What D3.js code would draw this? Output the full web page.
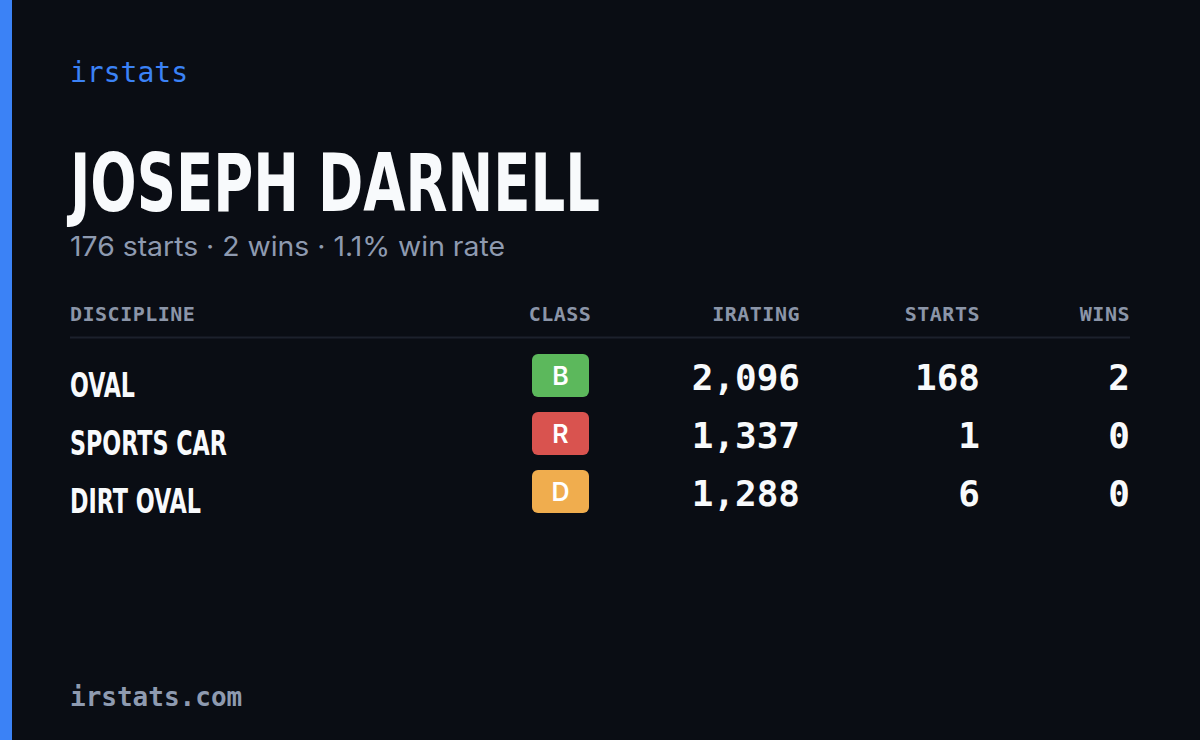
<!DOCTYPE html>
<html><head><meta charset="utf-8">
<script src="https://cdn.jsdelivr.net/npm/d3@7"></script>
<style>body{margin:0;background:#0a0d14}</style>
</head><body>
<svg id="card" width="1200" height="740"></svg>
<script>
// data
var driver = "JOSEPH DARNELL";
var summary = "176 starts \u00b7 2 wins \u00b7 1.1% win rate";
var disciplines = ["OVAL", "SPORTS CAR", "DIRT OVAL"];
var labelWidths = [65, 157, 131];
var classes = ["B", "R", "D"];
var iratings = [2096, 1337, 1288];
var starts = [168, 1, 6];
var wins = [2, 0, 0];
var headers = ["DISCIPLINE", "CLASS", "IRATING", "STARTS", "WINS"];
var classColors = {B: "#5cb85c", R: "#d9534f", D: "#f0ad4e"};

var svg = d3.select("#card");
var mono = "'DejaVu Sans Mono', 'Liberation Mono', monospace";
var narrow = "'Liberation Sans Narrow', 'DejaVu Sans Condensed', sans-serif";

svg.append("rect").attr("width", 1200).attr("height", 740).attr("fill", "#0a0d14");
svg.append("rect").attr("width", 12).attr("height", 740).attr("fill", "#3b82f6");

svg.append("text").attr("x", 70).attr("y", 82).text("irstats")
    .attr("font-family", mono).attr("font-size", 28).attr("fill", "#3b82f6");

svg.append("text").attr("x", 70).attr("y", 211).text(driver)
    .attr("font-family", narrow).attr("font-weight", 700).attr("font-size", 80)
    .attr("textLength", 530).attr("lengthAdjust", "spacingAndGlyphs").attr("fill", "#f8fafc");

svg.append("text").attr("x", 70).attr("y", 256).text(summary)
    .attr("font-family", "Inter, 'Noto Sans', sans-serif").attr("font-size", 27)
    .attr("textLength", 435).attr("lengthAdjust", "spacingAndGlyphs").attr("fill", "#8e9ab0");

// columns: x anchor and alignment
var cols = [
    {x: 70, anchor: "start"},
    {x: 560, anchor: "middle"},
    {x: 800, anchor: "end"},
    {x: 980, anchor: "end"},
    {x: 1130, anchor: "end"}
];

svg.selectAll(".hdr").data(headers).join("text")
    .attr("x", (d, i) => cols[i].x).attr("y", 321)
    .attr("text-anchor", (d, i) => cols[i].anchor)
    .attr("font-family", mono).attr("font-size", 20).attr("font-weight", 700).attr("letter-spacing", 0.5)
    .attr("fill", "#8b95a8").text(d => d);

svg.append("line").attr("x1", 70).attr("x2", 1130).attr("y1", 337.5).attr("y2", 337.5)
    .attr("stroke", "#1c212c").attr("stroke-width", 2);

var y = d3.scaleBand().domain(d3.range(disciplines.length)).range([347, 521]);
var fmt = d3.format(",");

var rows = svg.selectAll(".row").data(disciplines).join("g")
    .attr("transform", (d, i) => "translate(0," + y(i) + ")");

rows.append("text").attr("x", 70).attr("y", 50).text(d => d)
    .attr("font-family", narrow).attr("font-weight", 700).attr("font-size", 34)
    .attr("textLength", (d, i) => labelWidths[i]).attr("lengthAdjust", "spacingAndGlyphs")
    .attr("fill", "#f8fafc");

rows.append("rect").attr("x", 532).attr("y", 7).attr("width", 57).attr("height", 43).attr("rx", 6)
    .attr("fill", (d, i) => classColors[classes[i]]);
rows.append("text").attr("x", 560.5).attr("y", 38).attr("text-anchor", "middle")
    .attr("font-family", "Inter, 'Noto Sans', sans-serif").attr("font-weight", 600).attr("font-size", 25)
    .attr("fill", "#fff").text((d, i) => classes[i]);

var numCols = [[iratings, 2, fmt], [starts, 3, String], [wins, 4, String]];
numCols.forEach(function(c) {
    rows.append("text").attr("x", cols[c[1]].x).attr("y", 43).attr("text-anchor", "end")
        .attr("font-family", mono).attr("font-size", 36).attr("font-weight", 700)
        .attr("fill", "#f8fafc").text((d, i) => c[2](c[0][i]));
});

svg.append("text").attr("x", 70).attr("y", 706).text("irstats.com")
    .attr("font-family", mono).attr("font-size", 26).attr("font-weight", 700).attr("fill", "#8e9ab0");
</script>
</body></html>
